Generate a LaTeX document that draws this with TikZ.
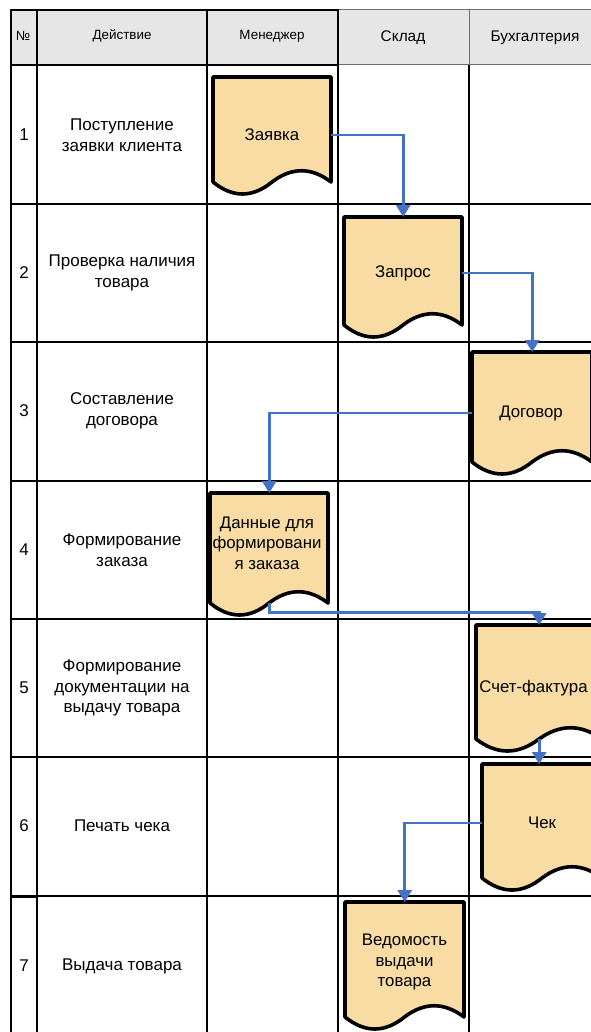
\documentclass[tikz,border=0pt]{standalone}
\usepackage{fontspec}
\setmainfont{Liberation Sans}
\usetikzlibrary{arrows.meta,calc}
\definecolor{docfill}{RGB}{248,220,163}
\definecolor{flow}{RGB}{68,114,196}
\definecolor{headfill}{RGB}{230,230,230}
\definecolor{thingrid}{RGB}{110,110,110}
\pgfdeclarelayer{gridlayer}
\pgfdeclarelayer{doclayer}
\pgfsetlayers{gridlayer,doclayer,main}
\tikzset{
  gridline/.style={line width=2.2pt,black},
  headline/.style={line width=2.5pt,black},
  thinline/.style={line width=1pt,thingrid},
  docline/.style={line width=3.6pt,black,fill=docfill,line join=round},
  docbox/.style={draw=none,inner sep=0pt,rectangle},
  doctext/.style={font=\fontsize{16.8}{20.5}\selectfont,align=center,inner sep=0pt},
  celltext/.style={font=\fontsize{17}{20.5}\selectfont,align=center,inner sep=0pt},
  headtext/.style={font=\fontsize{13.4}{16}\selectfont,inner sep=0pt},
  headtextb/.style={font=\fontsize{15.4}{18}\selectfont,inner sep=0pt},
  flowarrow/.style={line width=2.8pt,flow,-{Triangle[width=14pt,length=12pt]}},
}
% name, x, top, w, h, text x offset, text y, text
\newcommand\docshape[8]{%
  \node[docbox,minimum width=#4pt,minimum height=#5pt,anchor=north west] (#1) at (#2,#3) {};
  \node[doctext] (#1t) at ({#2+#4/2+#6},#7) {#8};
  \begin{pgfonlayer}{doclayer}
  \draw[docline] (#2,#3) -- ({#2+#4},#3) -- ({#2+#4},{#3+#5})
    .. controls ({#2+#4*5/6},{#3+#5-15}) and ({#2+#4*4/6},{#3+#5-15}) .. ({#2+#4/2},{#3+#5})
    .. controls ({#2+#4*2/6},{#3+#5+16}) and ({#2+#4/6},{#3+#5+16}) .. (#2,{#3+#5}) -- cycle;
  \end{pgfonlayer}}
\begin{document}
\begin{tikzpicture}[x=1pt,y=-1pt]
\useasboundingbox (0,0) rectangle (590,1032);
\clip (0,0) rectangle (590,1032);
\begin{pgfonlayer}{gridlayer}
  \fill[white] (0,0) rectangle (590,1032);
  % header
  \fill[headfill] (11,10) rectangle (600,65);
  \draw[thinline] (338,10) -- (600,10);
  \draw[thinline] (469,10) -- (469,65);
  % body grid
  \foreach \yy in {204,342,481,619,757,896}
    \draw[gridline] (11,\yy) -- (600,\yy);
  \draw[thinline] (338,65) -- (600,65);
  \foreach \xx in {11,37,207,338,469}
    \draw[gridline] (\xx,65) -- (\xx,1040);
  \draw[headline] (11,10) rectangle (338,65);
  \draw[headline] (37,10) -- (37,65);
  \draw[headline] (207,10) -- (207,65);
  \draw[line width=3pt,black] (11,896) -- (37,896);
  \draw[line width=2.8pt,black] (11,896) -- (11,1040);
\end{pgfonlayer}
% header texts
\node[headtext] (h0) at (23,36) {№};
\node[headtext] (h1) at (122,36) {Действие};
\node[headtext] (h2) at (272,36) {Менеджер};
\node[headtextb] (h3) at (403,38) {Склад};
\node[headtextb] (h4) at (535,38) {Бухгалтерия};
% row numbers and actions
\node[celltext] (n1) at (24,135) {1};
\node[celltext] (n2) at (24,273) {2};
\node[celltext] (n3) at (24,411) {3};
\node[celltext] (n4) at (24,550) {4};
\node[celltext] (n5) at (24,688) {5};
\node[celltext] (n6) at (24,826) {6};
\node[celltext] (n7) at (24,966) {7};
\node[celltext] (a1) at (122,135) {Поступление\\заявки клиента};
\node[celltext] (a2) at (122,273) {Проверка наличия\\товара};
\node[celltext] (a3) at (122,411) {Составление\\договора};
\node[celltext] (a4) at (122,550) {Формирование\\заказа};
\node[celltext] (a5) at (122,688) {Формирование\\документации на\\выдачу товара};
\node[celltext] (a6) at (122,826) {Печать чека};
\node[celltext] (a7) at (122,966) {Выдача товара};
% documents
\docshape{d1}{213}{77}{118}{105}{0}{135}{Заявка}
\docshape{d2}{344}{217}{118}{108}{0}{273}{Запрос}
\docshape{d3}{472}{352}{120}{110}{-1}{413}{Договор}
\docshape{d4}{210}{493}{118}{110}{-2}{543}{Данные для\\формировани\\я заказа}
\docshape{d5}{476}{625}{126}{114}{-5.5}{688}{Счет-фактура}
\docshape{d6}{482}{764}{120}{114}{0}{823}{Чек}
\docshape{d7}{345}{902}{119}{115}{0}{962}{Ведомость\\выдачи\\товара}
% connectors
\draw[flowarrow] (d1.east |- d1t.center) -| (d2.north);
\draw[flowarrow] (d2.east |- d2t.center) -| (d3.north);
\draw[flowarrow] (d3.west |- d3t.center) -| (d4.north);
\coordinate (c4) at ($(d4.south)+(0,9)$);
\draw[flowarrow] (d4.south) -- (c4) -| (d5.north);
\draw[flowarrow] (d5.south) -- (d5.south |- d6.north);
\draw[flowarrow] (d6.west |- d6t.center) -| (d7.north);
\end{tikzpicture}
\end{document}
